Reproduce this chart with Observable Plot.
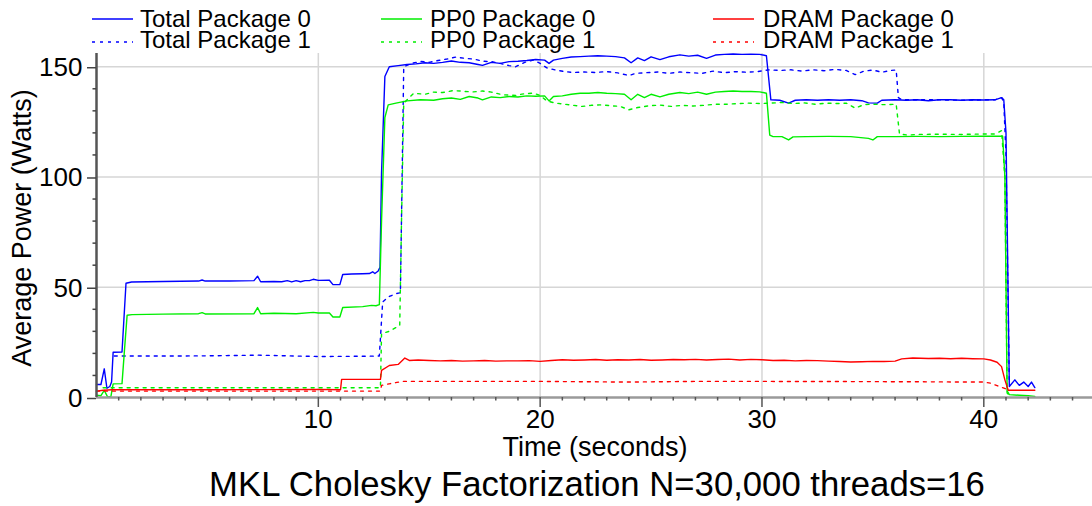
<!DOCTYPE html>
<html>
<head>
<meta charset="utf-8">
<script src="https://cdn.jsdelivr.net/npm/d3@7"></script>
<script src="https://cdn.jsdelivr.net/npm/@observablehq/plot@0.6"></script>
<style>
  html, body { margin: 0; padding: 0; background: #fff; }
  #wrap { position: relative; width: 1092px; height: 506px; overflow: hidden; font-family: "Liberation Sans", Arial, sans-serif; color: #000; }
  .txt { position: absolute; white-space: nowrap; }
  .leg { font-size: 24px; line-height: 20px; }
  svg.sw { position: absolute; overflow: visible; }
</style>
</head>
<body>
<div id="wrap"></div>
<script>
// ---------- data ----------
const seriesNames = ["Total Package 0", "Total Package 1", "PP0 Package 0", "PP0 Package 1", "DRAM Package 0", "DRAM Package 1"];
const seriesColors = ["#0000ff", "#0000ff", "#00ee00", "#00ee00", "#ff0000", "#ff0000"];
const seriesDashed = [false, true, false, true, false, true];

const totalP0T = [0,0.2,0.35,0.47,0.6,0.68,0.75,1.15,1.33,1.58,3,4.6,4.76,4.9,6,7.1,7.26,7.4,8,8.35,8.6,8.8,9,9.2,9.4,9.6,9.77,10,10.5,10.66,10.97,11.1,11.5,12,12.3,12.45,12.55,12.7,12.78,12.85,13.0,13.2,13.6,14.0,14.4,14.8,15.2,15.6,16.0,16.4,16.8,17.2,17.4,17.8,18.2,18.6,19.0,19.4,19.8,20.2,20.4,20.6,21.0,21.4,21.8,22.2,22.6,23.0,23.4,23.8,24.1,24.4,24.7,25.0,25.4,25.8,26.3,26.7,27.1,27.5,27.9,28.3,28.7,29.1,29.5,29.9,30.2,30.4,30.8,31.2,31.5,32,32.5,33,33.5,34,34.5,34.8,35.2,35.4,36,36.5,37,37.5,38,38.5,39,39.5,40,40.5,40.8,40.9,41.0,41.15,41.4,41.6,41.8,42.0,42.15,42.3];
const totalP0 = [5.9,5.9,13,4.2,5,7,20.5,20.6,51.8,52.4,52.6,52.8,53.3,52.8,52.8,53,55,52.5,52.6,52.5,53,52.4,53,52.5,53,53,53.6,53.1,53.2,51.2,51.2,55.8,56,56.1,56.2,57,56.2,57.4,59,102,145.6,150,150.5,151,151.3,151.8,151.5,152,152.6,152,151.8,151,150.6,152,151.5,152.3,152.5,152.8,153.3,153,151.5,153,153.8,154.4,154.6,154.8,155,154.8,154.6,154,151.8,154,152.8,154.5,153.2,154.5,155.4,154.8,155.2,153.8,155.3,155.6,155.8,155.6,155.7,155.6,155,135,134.8,133.5,134.8,135,134.8,135,134.8,135,134.6,133.6,133.5,134.8,135,134.8,135,134.6,135,135,134.8,135,134.9,135,136,135,120,5,8,5.5,7,5,7,4.5];

const totalP1T = [0.8,3,5,7.3,9,10,12,12.75,12.9,13.15,13.5,13.7,13.85,14.2,14.6,15.0,15.4,15.8,16.2,16.6,17.0,17.4,17.8,18.2,18.6,18.9,19.3,19.7,20.0,20.3,20.7,21.1,21.5,22,22.5,23.0,23.5,24.0,24.3,24.8,25.3,25.8,26.3,26.8,27.3,27.8,28.3,28.8,29.3,29.8,30.3,30.8,31.3,31.8,32.3,32.8,33.3,33.8,34.2,34.6,35.0,35.4,35.8,36.05,36.15,36.3,37,38,39,40,40.5,40.8,40.9,41.0,41.15];
const totalP1 = [18.8,18.8,18.9,19.2,18.8,18.6,18.7,18.8,43.3,45.6,47.1,47.5,150,151.5,152.4,152,152.8,153.5,154.4,153.8,153.5,152.5,152.3,151.5,150.5,150,152,153,151.5,149.5,148.5,147.8,147.4,147.6,147.4,147.8,147.2,146,147,147.3,147.6,147,147.6,147.3,147,148,147.3,147.8,147.5,147.8,148.6,148.3,148.6,148,148.6,148.2,148.8,148.3,146.4,148,148.5,147.5,148.3,148.5,136,135,135,135,134.8,135,135,136,134,110,6];

const pp0P0T = [0,0.2,0.35,0.5,0.65,0.75,1.15,1.25,1.38,1.6,3,4.6,4.76,4.9,7.1,7.26,7.4,8,9,9.77,10,10.5,10.66,10.97,11.1,12,12.4,12.6,12.75,12.85,13.0,13.15,13.5,14,14.6,15.2,15.6,16.0,16.4,16.8,17.2,17.4,17.8,18.2,18.6,19.0,19.4,19.8,20.2,20.4,20.6,21.0,21.4,21.8,22.2,22.6,23.0,23.4,23.8,24.1,24.4,24.7,25.0,25.4,25.8,26.3,26.7,27.1,27.5,27.9,28.3,28.7,29.1,29.5,29.9,30.2,30.35,30.5,30.9,31.2,31.4,32,33,34,34.8,35,35.2,36,37,38,39,40,40.7,40.85,40.95,41.05,41.15,41.6,42,42.3];
const pp0P0 = [1,0.8,3.2,0.3,0.5,6.2,6.3,20,37.3,37.6,37.8,38,38.5,37.9,38,40.8,38,38.2,38,38.6,38.3,38.3,36.5,36.5,40.8,41.2,41.8,41.6,42.1,80,127,132.7,133.5,134.5,135,134.8,135.5,135.8,135.2,136.5,135.8,135,136.3,136,136.5,136.3,136.8,136.6,136.8,134.5,136.5,136.8,137.5,138,138,138.3,138,137.8,137.5,135,137.5,136,137.5,136.3,137.5,138.3,137.8,138.5,137.5,138.5,138.8,139,138.8,138.8,138.6,138,119,118.3,118.3,116.8,118.2,118.3,118.4,118.3,117.5,116.8,118.3,118.3,118.4,118.3,118.4,118.5,118.5,118.5,100,3,1.3,1,0.8,0.5];

const pp0P1T = [0.3,3,6,9,12,12.8,12.85,13.2,13.67,13.75,13.85,14.3,14.8,15.2,15.6,16.1,16.6,17.0,17.4,17.8,18.3,18.9,19.3,19.7,20.0,20.3,20.7,21.1,21.5,21.9,22.3,22.7,23.2,23.6,24.0,24.4,24.9,25.4,25.9,26.4,26.9,27.4,27.9,28.4,28.9,29.4,29.9,30.4,30.9,31.4,31.9,32.4,32.9,33.4,33.8,34.2,34.6,35.0,35.5,36.05,36.2,36.6,37,38,39,40,40.5,40.8,40.95,41.05,41.15];
const pp0P1 = [4.4,4.4,4.4,4.4,4.4,4.4,29,30,32.7,80,133.5,138,137.5,138.5,138.3,139.2,138.8,138.6,139,138.5,137.3,137,137.8,138,137,134.5,133.5,133,132.5,132,132.5,132.7,132.3,132,130.5,131.5,132.3,132.6,132,132.5,132.2,132.5,133,133,133.3,133.5,133.3,133.5,133.8,133.3,133.6,133,133.5,133.3,133.5,131.2,132.8,133,132.8,133,119.5,119,119.3,119.4,119.3,119.5,119.5,121,100,2,1];

const dramP0T = [0,0.3,0.7,5,10,11.0,11.05,12.8,12.85,13.2,13.6,13.9,14.1,14.5,15,15.5,16,16.5,17,17.5,18,18.5,19,19.5,20,20.5,21,21.5,22,22.5,23,23.5,24,24.5,25,25.5,26,26.5,27,27.5,28,28.5,29,29.5,30,30.5,31,31.5,32,32.5,33,33.5,34,34.5,35,35.5,36,36.3,36.8,37.5,38,38.5,39,39.5,40,40.3,40.6,40.8,40.95,41.1,42.3];
const dramP0 = [2.9,3.3,3.5,3.5,3.7,3.5,8.2,8.2,12.3,14.5,15,17.9,16.8,17,16.8,16.6,16.8,16.5,16.6,16.8,16.5,16.6,16.6,16.7,16.4,16.8,17.1,16.9,17,17.2,16.9,17.1,17,17.2,16.9,17,17.2,17.1,17.3,17,17.2,17.4,17,17.3,17.1,16.8,16.9,16.6,16.8,16.7,16.5,16.3,16.1,16.2,16.4,16.3,16.5,17.5,17.9,17.7,17.8,17.6,17.8,17.6,17.5,17,16,14,8,3.3,3.3];

const dramP1T = [0,6,12.8,12.85,13.3,13.8,17,20,24,27,30,35,40,40.3,40.7,41,41.1];
const dramP1 = [2.9,2.9,2.9,5.5,6.4,7.3,7.3,7.3,7.0,7.3,7.3,7.2,7.0,6.5,5,3.9,3.3];

// axes / grid values
const xMajorTicks = [10, 20, 30, 40];
const xMinorTicks = [1,2,3,4,5,6,7,8,9,11,12,13,14,15,16,17,18,19,21,22,23,24,25,26,27,28,29,31,32,33,34,35,36,37,38,39,41,42,43,44];
const yMajorTicks = [0, 50, 100, 150];
const yMinorTicks = [10,20,30,40,60,70,80,90,110,120,130,140];
const xGridLines = [10, 20, 30, 40];
const yGridLines = [50, 100, 150];

const xTitle = "Time (seconds)";
const yTitle = "Average Power (Watts)";
const chartTitle = "MKL Cholesky Factorization N=30,000 threads=16";

// ---------- build tables ----------
const pairs = [[totalP0T, totalP0], [totalP1T, totalP1], [pp0P0T, pp0P0], [pp0P1T, pp0P1], [dramP0T, dramP0], [dramP1T, dramP1]];
const tables = pairs.map(([ts, vs], i) => ts.map((t, j) => ({t, v: vs[j], s: seriesNames[i]})));

const lineMarks = tables.map((rows, i) => Plot.line(rows, {
  x: "t", y: "v",
  stroke: seriesColors[i],
  strokeWidth: 1.4,
  strokeDasharray: seriesDashed[i] ? "3,5" : null,
  strokeLinejoin: "round"
}));

const chart = Plot.plot({
  width: 1092,
  height: 506,
  marginLeft: 96,
  marginRight: 0,
  marginTop: 53,
  marginBottom: 109,
  x: {domain: [0, 44.9]},
  y: {domain: [0, 156]},
  style: {fontFamily: "'Liberation Sans', Arial, sans-serif", fontSize: "26px", color: "#000", background: "transparent", overflow: "visible"},
  marks: [
    Plot.ruleX(xGridLines, {stroke: "#d6d6d6", strokeWidth: 1.5}),
    Plot.ruleY(yGridLines, {stroke: "#d6d6d6", strokeWidth: 1.5}),
    ...lineMarks,
    Plot.ruleY([0], {stroke: "#9a9a9a", strokeWidth: 2.5}),
    Plot.ruleX([0], {stroke: "#555", strokeWidth: 2.5}),
    Plot.axisX(xMajorTicks, {tickSize: 10, tickPadding: 2.5, stroke: "#555", strokeWidth: 1.5, label: null, fill: "#000"}),
    Plot.axisX(xMinorTicks, {tickSize: 3.5, stroke: "#555", strokeWidth: 1.5, text: null, label: null}),
    Plot.axisY(yMajorTicks, {tickSize: 9, tickPadding: 5, stroke: "#444", strokeWidth: 1.5, label: null, fill: "#000", dy: 1}),
    Plot.axisY(yMinorTicks, {tickSize: 3.5, stroke: "#444", strokeWidth: 1.5, text: null, label: null})
  ]
});

const wrap = document.getElementById("wrap");
chart.style.position = "absolute";
chart.style.left = "0px";
chart.style.top = "0px";
wrap.appendChild(chart);

// ---------- legend ----------
const legendCols = [{sx: 92, tx: 140}, {sx: 381, tx: 430}, {sx: 713, tx: 763}];
const legendRows = [{ty: 8.7, ly: 19}, {ty: 29.7, ly: 42}];
seriesNames.forEach((name, i) => {
  const col = legendCols[Math.floor(i / 2)];
  const row = legendRows[i % 2];
  const sw = document.createElementNS("http://www.w3.org/2000/svg", "svg");
  sw.setAttribute("class", "sw");
  sw.setAttribute("width", 42);
  sw.setAttribute("height", 4);
  sw.style.left = col.sx + "px";
  sw.style.top = (row.ly - 2) + "px";
  const ln = document.createElementNS("http://www.w3.org/2000/svg", "line");
  ln.setAttribute("x1", 0); ln.setAttribute("x2", 41);
  ln.setAttribute("y1", 2); ln.setAttribute("y2", 2);
  ln.setAttribute("stroke", seriesColors[i]);
  ln.setAttribute("stroke-width", 1.4);
  if (seriesDashed[i]) ln.setAttribute("stroke-dasharray", "3,5");
  sw.appendChild(ln);
  wrap.appendChild(sw);
  const d = document.createElement("div");
  d.className = "txt leg";
  d.textContent = name;
  d.style.left = col.tx + "px";
  d.style.top = row.ty + "px";
  wrap.appendChild(d);
});

// ---------- axis titles & chart title ----------
const xt = document.createElement("div");
xt.className = "txt";
xt.textContent = xTitle;
xt.style.fontSize = "27px";
xt.style.lineHeight = "20px";
xt.style.left = "595px";
xt.style.top = "436.5px";
xt.style.transform = "translateX(-50%)";
wrap.appendChild(xt);

const yt = document.createElement("div");
yt.className = "txt";
yt.textContent = yTitle;
yt.style.fontSize = "27px";
yt.style.lineHeight = "27px";
yt.style.left = "22px";
yt.style.top = "228px";
yt.style.transform = "translate(-50%, -50%) rotate(-90deg)";
wrap.appendChild(yt);

const tt = document.createElement("div");
tt.className = "txt";
tt.textContent = chartTitle;
tt.style.fontSize = "34.7px";
tt.style.lineHeight = "34.7px";
tt.style.left = "597px";
tt.style.top = "467px";
tt.style.transform = "translateX(-50%)";
wrap.appendChild(tt);
</script>
</body>
</html>
